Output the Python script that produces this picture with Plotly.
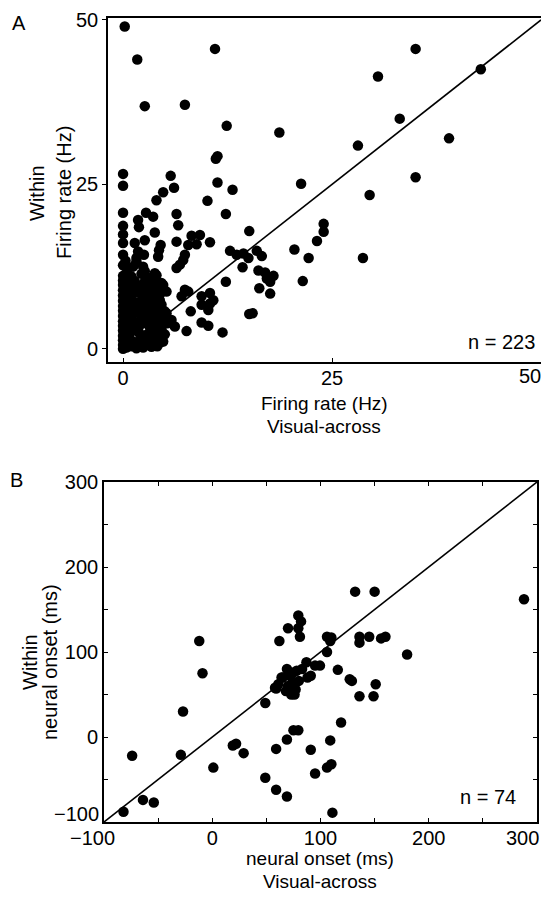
import plotly.graph_objects as go

# page is 549x899; the HTML body has an 8px margin, so the figure is 16px smaller
PAGE_W, PAGE_H = 549, 899
OFF = 8
W, H = PAGE_W - 2 * OFF, PAGE_H - 2 * OFF

# ---------------- Panel A data: firing rate (Hz) ----------------
a_x = [0.2, 1.7, 11.0, 35.0, 42.8, 30.5, 2.6, 7.4, 12.4, 18.7, 33.1, 39.0, 28.1, 11.3, 11.1,
       5.7, 6.1, 4.8, 4.0, 11.3, 13.1, 10.1, 21.3, 35.0, 29.5,
       12.3, 2.75, 1.8, 3.6, 6.4, 6.6, 3.8, 15.1, 24.0, 24.0, 23.2, 20.5, 22.2, 28.7, 21.5,
       1.4, 2.6, 6.4, 8.2, 9.2, 8.8, 10.4, 7.8, 4.5, 4.3, 4.2, 2.5, 7.4, 7.2, 6.8, 6.4,
       12.8, 13.6, 14.4, 15.0, 16.0, 16.6, 14.3,
       16.2, 17.0, 18.0, 17.6, 17.2, 16.3, 17.6, 12.3,
       15.1, 15.5, 11.9, 7.6, 9.4, 10.2, 8.1,
       9.4, 10.4, 10.4, 9.4, 10.2, 10.8, 7.4, 7.0, 5.8, 6.2, 5.2, 4.8, 4.5,
       4.0, 4.8, 5.2, 4.0, 3.6, 2.6, 1.6, 1.0, 1.2, 2.4, 3.2, 4.0, 4.6, 1.6,
       1.9, 1.8, 7.8, 1.6, 2.4, 3.8, 4.6, 3.0, 5.0, 4.4,
       0, 0, 0, 0, 0, 0, 0, 0, 0,
       0, 0, 0, 0, 0, 0, 0, 0, 0, 0, 0, 0, 0, 0, 0,
       0.4, 0.5, 0.3, 0.6, 0.4, 0.5, 0.3, 0.6, 0.5,
       1.0, 1.1, 0.9, 1.2, 1.0, 1.1, 0.9, 1.2, 1.0, 1.1,
       1.6, 1.5, 1.7, 1.6, 1.8, 1.5, 1.7, 1.4, 1.8,
       2.1, 2.3, 2.0, 2.2, 2.4, 2.1, 2.3, 2.0, 2.2, 2.4,
       2.8, 2.9, 2.7, 3.0, 2.8, 2.9, 2.7, 3.0, 2.6, 2.8,
       3.4, 3.5, 3.3, 3.6, 3.4, 3.7, 3.5, 3.3, 3.6,
       4.1, 4.2, 4.0, 4.4, 4.1, 4.3, 4.5, 3.9,
       5.0, 4.6, 5.3, 4.9, 3.9, 4.7, 3.2, 4.3,
       0.2, 0.7, 1.3, 1.9, 2.5, 3.1, 3.8, 0.8, 2.6, 3.1, 0.3]
a_y = [49.0, 44.0, 45.6, 45.6, 42.5, 41.4, 36.9, 37.1, 33.9, 32.9, 35.0, 32.0, 30.9, 29.3, 28.9,
       26.3, 24.5, 23.8, 22.6, 25.3, 24.2, 22.5, 25.1, 26.1, 23.4,
       20.5, 20.7, 19.6, 20.1, 20.5, 18.8, 17.7, 17.9, 19.0, 17.8, 16.4, 15.1, 13.8, 13.8, 10.3,
       16.1, 16.5, 16.3, 17.2, 17.3, 15.9, 16.2, 15.8, 15.8, 15.0, 14.0, 14.3, 14.3, 13.5, 12.8, 12.3,
       14.9, 14.3, 14.5, 13.8, 14.9, 14.1, 12.4,
       11.9, 11.6, 11.1, 10.2, 10.7, 9.2, 8.4, 10.2,
       5.3, 5.4, 2.5, 2.7, 4.0, 3.5, 5.7,
       8.0, 8.5, 6.9, 6.7, 5.9, 7.4, 9.0, 8.0, 4.4, 3.4, 5.4, 1.1, 1.0,
       9.5, 9.7, 8.7, 11.2, 10.5, 10.2, 9.7, 11.0, 12.5, 8.4, 8.0, 7.2, 6.7, 13.8,
       18.5, 14.8, 8.7, 13.3, 12.5, 11.5, 10.0, 10.0, 5.7, 7.4,
       26.6, 24.8, 20.7, 18.7, 17.4, 16.1, 14.3, 12.7, 11.1,
       0, 0.6, 1.3, 2.0, 2.8, 3.5, 4.2, 5.0, 5.8, 6.5, 7.3, 8.1, 8.9, 9.7, 10.4,
       0.2, 1.7, 3.1, 4.6, 6.1, 7.7, 9.2, 10.8, 12.0,
       0.4, 1.2, 2.5, 3.8, 5.3, 6.8, 8.3, 9.0, 7.4, 4.4,
       0.1, 2.9, 4.0, 5.6, 6.3, 7.1, 8.6, 10.3, 1.0,
       0.5, 1.5, 2.3, 4.8, 5.5, 6.6, 7.6, 9.1, 11.4, 0.2,
       0.9, 2.2, 3.9, 4.6, 5.9, 6.9, 8.9, 1.5, 11.8, 7.5,
       0.3, 1.8, 2.8, 3.7, 5.2, 6.1, 6.8, 9.3, 0.9,
       0.4, 2.3, 3.1, 4.0, 5.0, 5.9, 8.5, 8.3,
       2.2, 3.0, 3.9, 4.6, 1.4, 1.8, 3.4, 6.6,
       3.9, 2.1, 6.0, 3.4, 4.2, 5.6, 4.6, 9.9, 9.6, 10.8, 13.4]

# ---------------- Panel B data: neural onset (ms) ----------------
b_x = [-82, -74, -64, -54, -29, -27, -12, -9, 1, 19, 22, 29, 49, 58, 59, 61, 62, 70, 69, 75,
       72, 70, 73, 76, 78, 79.5, 82, 79.5, 81, 87, 95, 99.5, 106, 88, 106, 110, 109, 116,
       127, 129, 136, 136, 145, 156, 160, 132, 150, 288, 180, 151, 136, 149, 119, 75, 79.5,
       69, 59, 91, 109, 106, 110, 95, 49, 59, 69, 111,
       65, 80, 74, 68, 77, 83, 91, 64]
b_y = [-88, -22, -74, -77, -21, 30, 113, 75, -36, -10, -8, -19, 40, 58, 57, 62, 113, 128, 80, 76,
       72, 60, 50, 50, 78, 143, 136, 128, 118, 88, 84, 84, 100, 70, 118, 117, 113, 79,
       68, 66, 118, 111, 118, 116, 118, 171, 171, 162, 97, 62, 48, 48, 17, 8, 8,
       -3, -14, -15, -4, -36, -32, -43, -48, -62, -70, -89,
       70, 66, 64, 54, 56, 80, 72, 70]

# ---------------- tick definitions ----------------
a_ticks = [0, 25, 50]
a_xticktext = ["0", "25", ""]          # "50" drawn separately (shifted inside page)
a_yticktext = ["0", "25", "50"]
b_ticks = [-100, -50, 0, 50, 100, 150, 200, 250, 300]
b_xticktext = ["", "", "0", "", "100", "", "200", "", ""]
b_yticktext = ["", "", "0", "", "100", "", "200", "", "300"]

FONT = "Liberation Sans, Arial, Helvetica, sans-serif"
FS = 20


def px_x(p):
    """page pixel x -> paper fraction"""
    return (p - OFF) / W


def px_y(p):
    """page pixel y -> paper fraction"""
    return 1 - (p - OFF) / H


fig = go.Figure()

# diagonal identity lines
fig.add_trace(go.Scatter(x=[0, 50], y=[0, 50], mode="lines",
                         line=dict(color="black", width=1.6),
                         xaxis="x", yaxis="y", hoverinfo="skip"))
fig.add_trace(go.Scatter(x=[-100, 300], y=[-100, 300], mode="lines",
                         line=dict(color="black", width=1.6),
                         xaxis="x2", yaxis="y2", hoverinfo="skip"))

# scatter points
fig.add_trace(go.Scatter(x=a_x, y=a_y, mode="markers",
                         marker=dict(color="black", size=10.5, line=dict(width=0)),
                         xaxis="x", yaxis="y"))
fig.add_trace(go.Scatter(x=b_x, y=b_y, mode="markers",
                         marker=dict(color="black", size=10.5, line=dict(width=0)),
                         xaxis="x2", yaxis="y2"))

axis_common = dict(showline=True, linecolor="black", linewidth=1.6, mirror=True,
                   showgrid=False, zeroline=False, automargin=False,
                   tickfont=dict(family=FONT, size=FS, color="black"),
                   tickcolor="black", ticklen=4, tickwidth=1.2)

fig.update_layout(
    template="none",
    width=W, height=H, autosize=False,
    margin=dict(l=0, r=0, t=0, b=0, pad=0),
    paper_bgcolor="white", plot_bgcolor="white",
    showlegend=False,
    font=dict(family=FONT, size=FS, color="black"),
    xaxis=dict(domain=[px_x(108), px_x(541)], range=[-1.8, 50],
               tickvals=a_ticks, ticktext=a_xticktext, ticks="inside",
               ticklabelstandoff=-3, anchor="y", **axis_common),
    yaxis=dict(domain=[px_y(362), px_y(18)], range=[-2.0, 50.3],
               tickvals=a_ticks, ticktext=a_yticktext, ticks="outside",
               anchor="x", **axis_common),
    xaxis2=dict(domain=[px_x(104), px_x(537)], range=[-100, 300],
                tickvals=b_ticks, ticktext=b_xticktext, ticks="inside",
                ticklabelstandoff=-3, anchor="y2", **{**axis_common, "mirror": "ticks"}),
    yaxis2=dict(domain=[px_y(822), px_y(482)], range=[-100, 300],
                tickvals=b_ticks, ticktext=b_yticktext, ticks="inside",
                anchor="x2", **{**axis_common, "mirror": "ticks"}),
)

annots = [
    # panel letters
    dict(text="A", x=px_x(19), y=px_y(23)),
    dict(text="B", x=px_x(16), y=px_y(480)),
    # shifted edge tick labels
    dict(text="50", x=px_x(530), y=px_y(376)),
    dict(text="300", x=px_x(522), y=px_y(838)),
    dict(text="\u2212100", x=px_x(101), y=px_y(814), xanchor="right"),
    dict(text="\u2212100", x=px_x(92), y=px_y(838)),
    # panel A titles
    dict(text="Firing rate (Hz)", x=px_x(324), y=px_y(403), size=19),
    dict(text="Visual-across", x=px_x(324), y=px_y(426), size=19),
    dict(text="Within", x=px_x(37), y=px_y(193), textangle=-90),
    dict(text="Firing rate (Hz)", x=px_x(64), y=px_y(193), textangle=-90),
    dict(text="n = 223", x=px_x(537), y=px_y(342), xanchor="right"),
    # panel B titles
    dict(text="neural onset (ms)", x=px_x(320), y=px_y(858), size=19),
    dict(text="Visual-across", x=px_x(320), y=px_y(881), size=19),
    dict(text="Within", x=px_x(30), y=px_y(662), textangle=-90),
    dict(text="neural onset (ms)", x=px_x(50), y=px_y(662), textangle=-90),
    dict(text="n = 74", x=px_x(518), y=px_y(797), xanchor="right"),
]
for a in annots:
    a.setdefault("xanchor", "center")
    size = a.pop("size", FS)
    fig.add_annotation(xref="paper", yref="paper", showarrow=False,
                       yanchor="middle", font=dict(family=FONT, size=size, color="black"),
                       **a)

fig.write_html("out.html")
